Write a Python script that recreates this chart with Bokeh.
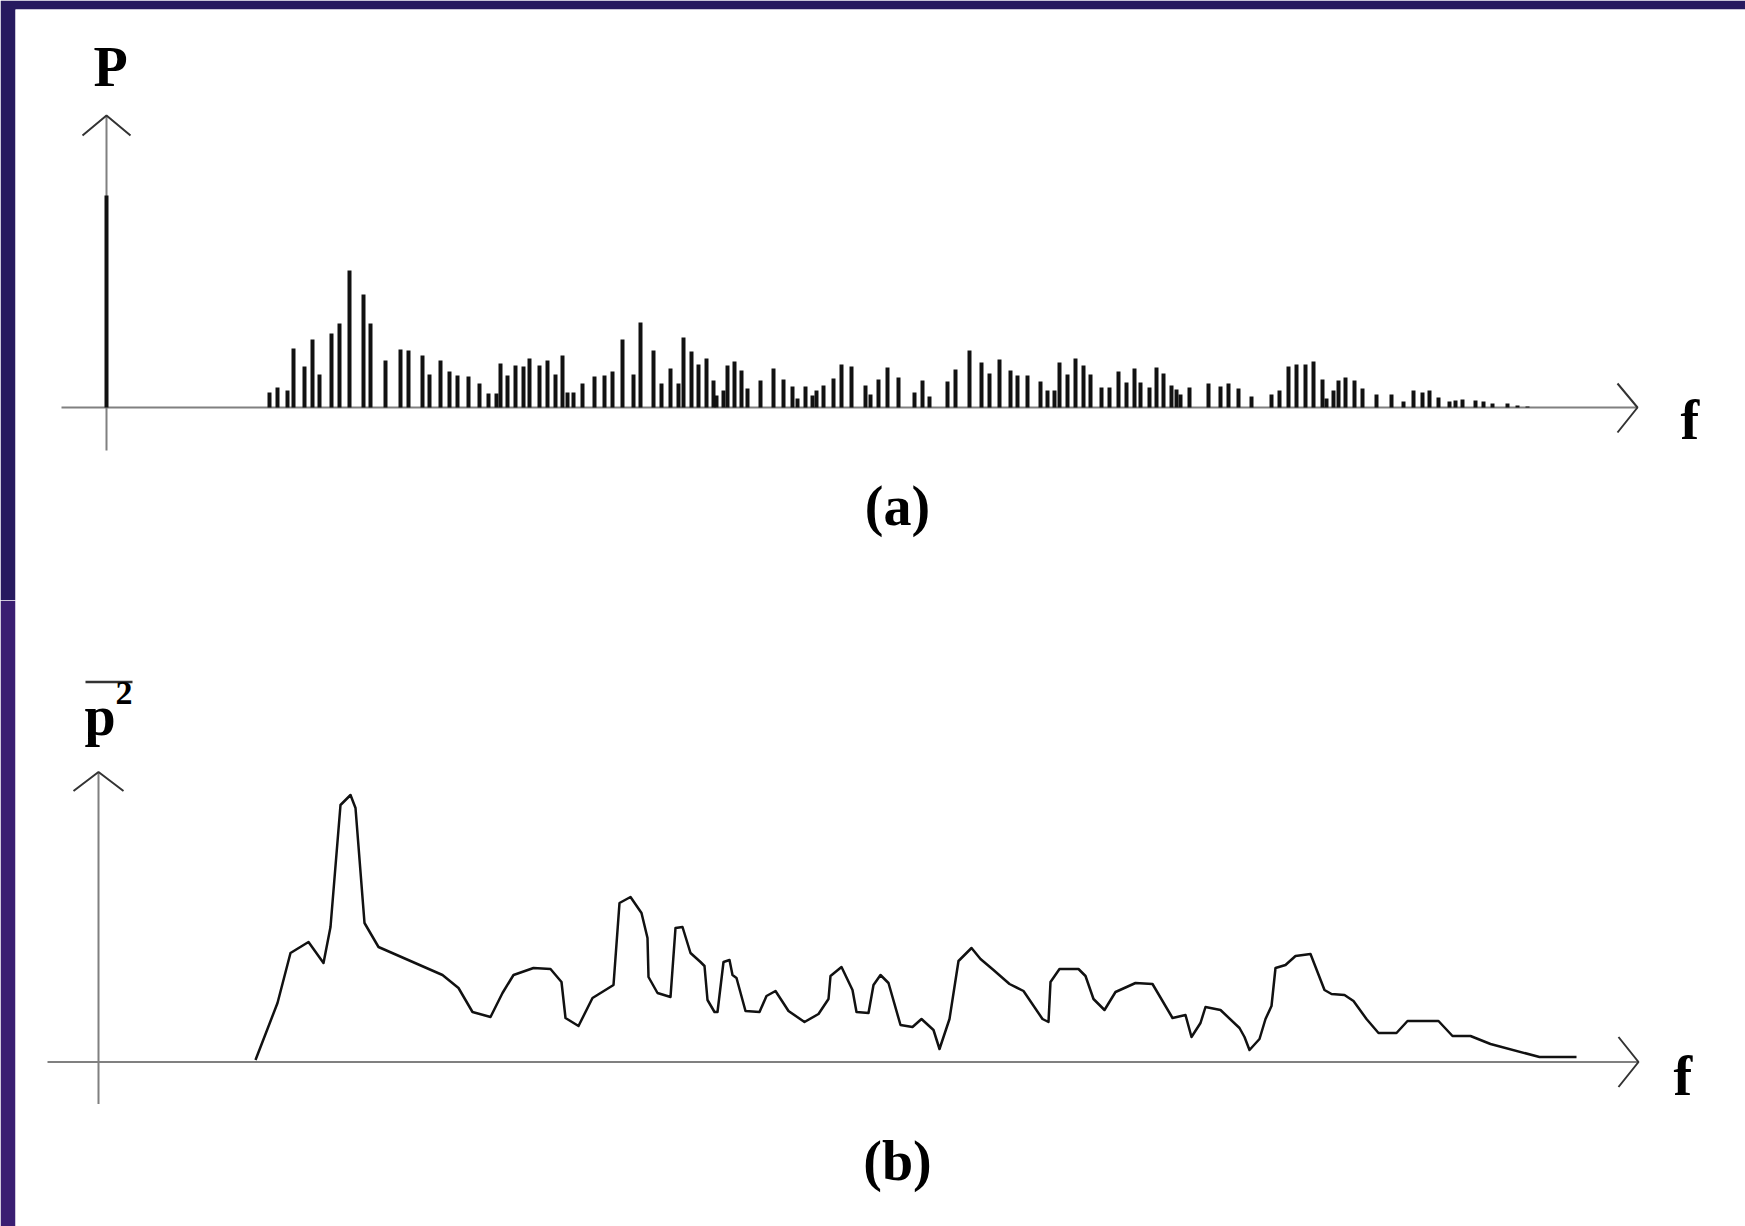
from bokeh.plotting import figure
from bokeh.layouts import column
from bokeh.models import Range1d, Label
from bokeh.embed import file_html
from bokeh.resources import INLINE

# ---- data (frequency in arbitrary units, amplitude in arbitrary units) ----
# (a) line spectrum P(f)
bar_f = [0, 163, 171, 181, 187, 198, 206, 213, 225, 233, 243, 257, 264, 279, 294, 302, 316, 323,
         334, 343, 351, 362, 373, 382, 390, 394, 401, 409, 417, 423, 433, 441, 449, 456, 461, 467,
         476, 488, 498, 506, 516, 527, 534, 547, 555, 564, 572, 577, 585, 592, 600, 607, 610, 617,
         621, 628, 635, 641, 654, 667, 677, 686, 691, 699, 706, 710, 717, 727, 735, 745, 759, 764,
         772, 781, 792, 808, 816, 823, 841, 849, 863, 875, 883, 893, 904, 911, 921, 934, 941, 948,
         953, 961, 969, 977, 984, 995, 1003, 1012, 1020, 1028, 1034, 1043, 1050, 1057, 1065, 1070,
         1074, 1083, 1102, 1114, 1122, 1132, 1145, 1165, 1173, 1182, 1190, 1199, 1207, 1216, 1220,
         1227, 1232, 1239, 1248, 1256, 1270, 1285, 1297, 1307, 1316, 1323, 1332, 1343, 1349, 1356,
         1369, 1377, 1386, 1401, 1411, 1421]
bar_p = [212, 15, 20, 17, 59, 41, 68, 33, 74, 84, 137, 113, 84, 47, 58, 57, 52, 33,
         47, 36, 32, 31, 24, 14, 14, 44, 32, 42, 41, 49, 42, 47, 33, 52, 15, 15,
         24, 31, 32, 36, 68, 33, 85, 57, 24, 39, 24, 70, 56, 43, 49, 27, 12, 17,
         42, 46, 37, 19, 27, 39, 28, 21, 9, 21, 12, 17, 22, 29, 43, 41, 22, 13,
         28, 40, 30, 15, 27, 11, 26, 38, 57, 45, 34, 48, 37, 32, 32, 26, 17, 17,
         45, 33, 49, 42, 33, 20, 20, 36, 25, 39, 25, 20, 40, 34, 22, 18,
         13, 20, 24, 21, 24, 19, 11, 13, 17, 41, 43, 43, 46, 28, 9,
         17, 27, 30, 27, 19, 13, 13, 6, 17, 15, 17, 10, 6, 7, 8,
         7, 6, 4, 4, 2, 1]

# (b) mean-square spectrum p^2(f)
line_f = [149, 171, 184, 202, 217, 224, 234, 244, 249, 258, 272, 336, 352, 366, 384, 396, 407, 427,
          444, 455, 459, 472, 486, 507, 513, 524, 535, 541, 542, 551, 564, 569, 576, 584, 594, 598,
          601, 608, 611, 617, 623, 626, 630, 639, 653, 660, 669, 682, 698, 712, 722, 724, 735, 746,
          750, 762, 767, 774, 782, 794, 806, 815, 827, 833, 843, 852, 865, 874, 887, 903, 917, 936,
          942, 944, 953, 972, 979, 987, 998, 1009, 1029, 1046, 1066, 1079, 1085, 1094, 1099, 1114,
          1133, 1138, 1143, 1153, 1159, 1165, 1169, 1179, 1189, 1204, 1218, 1225, 1238, 1247, 1260,
          1272, 1290, 1301, 1332, 1346, 1364, 1384, 1433, 1470]
line_p = [2, 59, 109, 120, 99, 135, 257, 267, 254, 139, 115, 87, 74, 50, 45, 69, 87, 94,
          93, 80, 44, 36, 64, 77, 159, 165, 149, 124, 85, 69, 65, 134, 135, 109, 100, 96,
          62, 50, 50, 100, 102, 87, 84, 51, 50, 66, 71, 51, 40, 48, 63, 86, 95, 72,
          50, 49, 77, 87, 79, 37, 35, 43, 32, 13, 43, 101, 114, 103, 92, 78, 71, 43,
          40, 80, 93, 93, 86, 63, 52, 70, 79, 78, 44, 47, 25, 39, 55, 52,
          34, 25, 12, 23, 43, 56, 94, 97, 106, 108, 72, 68, 67, 61, 43,
          29, 29, 41, 41, 26, 26, 18, 5, 5]

FONT = "Liberation Serif"
AXIS_COL = "#808080"
HEAD_COL = "#333333"
INK = "#111111"


def base_fig(height, y_lo, y_hi, top_border, fill):
    p = figure(width=1745, height=height, output_backend="svg", toolbar_location=None,
               x_range=Range1d(-91, 1639), y_range=Range1d(y_lo, y_hi),
               x_axis_type=None, y_axis_type=None,
               min_border_left=15, min_border_right=0, min_border_top=top_border,
               min_border_bottom=0)
    p.grid.visible = False
    p.outline_line_color = None
    p.background_fill_color = "white"
    p.border_fill_color = fill
    return p


def label(p, x, y, text, size="56px", align="left"):
    p.add_layout(Label(x=x, y=y, text=text, text_font=FONT, text_font_style="bold",
                       text_font_size=size, text_align=align, text_baseline="alphabetic",
                       text_color="black"))


# ---------------- panel (a) ----------------
pa = base_fig(600, -193, 398, 9, "#271a5f")
# axes
pa.segment(x0=[-45, 0], y0=[0, -43], x1=[1531, 0], y1=[0, 292], line_color=AXIS_COL, line_width=2)
# arrow heads
pa.line(x=[-24, 0, 24], y=[272, 292, 272], line_color=HEAD_COL, line_width=2)
pa.line(x=[1511, 1531, 1511], y=[24, 0, -25], line_color=HEAD_COL, line_width=2)
# bars
pa.vbar(x=bar_f, top=bar_p, bottom=0, width=4, fill_color=INK, line_color=None)
label(pa, 4, 341, "P", align="center")
label(pa, 1574, -12, "f")
label(pa, 791, -98, "(a)", align="center")

# ---------------- panel (b) ----------------
pb = base_fig(626, -164.5, 461.5, 0, "#3a1e72")
pb.segment(x0=[-59, -8], y0=[0, -42], x1=[1532, -8], y1=[0, 290], line_color=AXIS_COL, line_width=2)
pb.line(x=[-33, -8, 17], y=[271, 290, 271], line_color=HEAD_COL, line_width=2)
pb.line(x=[1512, 1532, 1512], y=[25, 0, -25], line_color=HEAD_COL, line_width=2)
pb.line(x=line_f, y=line_p, line_color=INK, line_width=2.5, line_join="round")
label(pb, -22, 346, "p")
label(pb, 9, 369, "2", size="34px")
pb.segment(x0=[-21], y0=[380], x1=[26], y1=[380], line_color="#333333", line_width=2.5)
label(pb, 1567, -14, "f")
label(pb, 791, -99, "(b)", align="center")

layout = column(pa, pb, spacing=0)
open("out.html", "w").write(file_html(layout, INLINE))
